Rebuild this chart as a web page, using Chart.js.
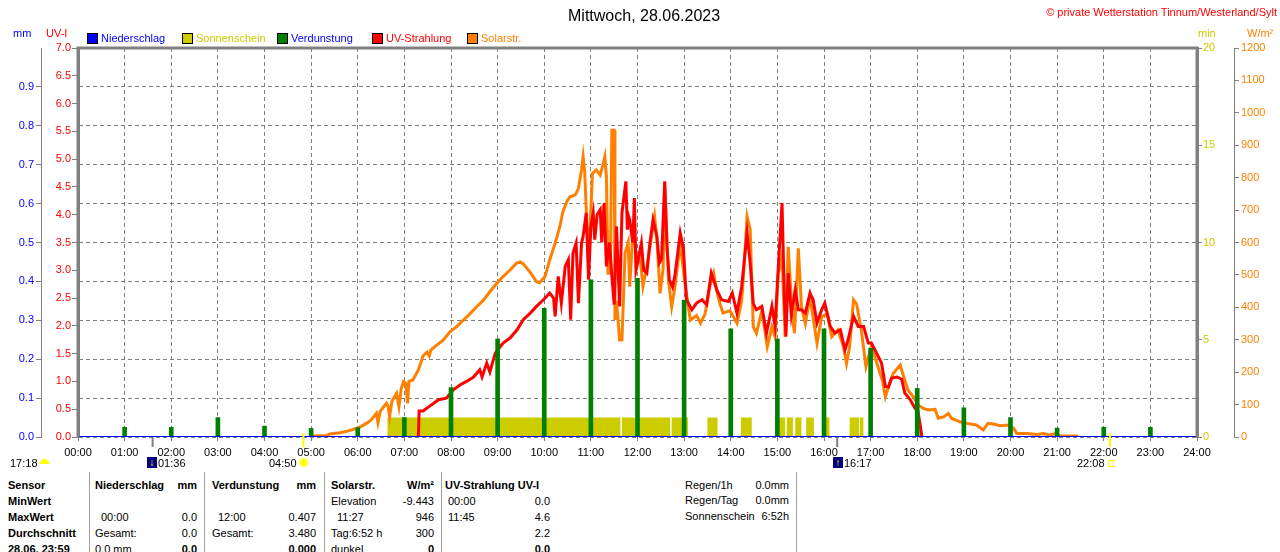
<!DOCTYPE html>
<html>
<head>
<meta charset="utf-8">
<script src="https://cdn.jsdelivr.net/npm/chart.js@4.4.0/dist/chart.umd.min.js"></script>
<style>
html, body { margin: 0; padding: 0; background: #fff; width: 1280px; height: 552px; overflow: hidden; font-family: "Liberation Sans", Arial, sans-serif; }
#wrap { position: absolute; left: 0; top: 0; width: 1280px; height: 462px; }
.t { position: absolute; white-space: nowrap; font-size: 11px; line-height: 14px; color: #000; }
.sq { position: absolute; width: 9px; height: 9px; border: 1px solid #000; }
.sep { position: absolute; width: 1px; background: #a0a0a0; top: 472px; height: 80px; }
.ico { position: absolute; }
</style>
</head>
<body>
<div id="wrap"><canvas id="chart" width="1280" height="462"></canvas></div>

<div class="sq" style="left:87px;top:33px;background:#0000ff"></div>
<div class="sq" style="left:182px;top:33px;background:#cccc00"></div>
<div class="sq" style="left:277px;top:33px;background:#008000"></div>
<div class="sq" style="left:372px;top:33px;background:#ff0000"></div>
<div class="sq" style="left:467px;top:33px;background:#ff8000"></div>

<div class="sep" style="left:89px"></div>
<div class="sep" style="left:204px"></div>
<div class="sep" style="left:324px"></div>
<div class="sep" style="left:441px"></div>
<div class="sep" style="left:796px"></div>

<!-- sun / moon icons under the axis -->
<div class="ico" style="left:40px;top:459px;width:9px;height:5px;background:#ffff00;border-radius:5px 5px 0 0"></div>
<div class="ico" style="left:147px;top:457px;width:10px;height:11px;background:#000080;color:#ffff00;font-size:10px;line-height:11px;text-align:center">&#8595;</div>
<div class="ico" style="left:300px;top:459px;width:7px;height:7px;background:#ffff00;border-radius:50%;box-shadow:0 0 2px 1px #ffff60"></div>
<div class="ico" style="left:833px;top:457px;width:10px;height:11px;background:#000080;color:#ffff00;font-size:10px;line-height:11px;text-align:center">&#8593;</div>
<div class="ico" style="left:1108px;top:460px;width:4px;height:5px;border:1px solid #ffff00"></div>

<script>
// Niederschlag (mm), hourly
const precipTimes = ['00:00', '06:00', '12:00', '18:00', '24:00'];
const precipValues = [0, 0, 0, 0, 0];

// Verdunstung (mm), hourly sums
const evapTimes = ['01:00', '02:00', '03:00', '04:00', '05:00', '06:00', '07:00', '08:00', '09:00', '10:00', '11:00', '12:00',
    '13:00', '14:00', '15:00', '16:00', '17:00', '18:00', '19:00', '20:00', '21:00', '22:00', '23:00'];
const evapValues = [0.025, 0.025, 0.05, 0.028, 0.022, 0.024, 0.05, 0.127, 0.252, 0.331, 0.404, 0.408,
    0.352, 0.278, 0.252, 0.278, 0.228, 0.125, 0.075, 0.05, 0.023, 0.025, 0.025];

// Sonnenschein (min), sunny periods
const sunStart = ['06:38', '11:40', '12:44', '13:30', '14:13', '15:02', '15:12', '15:23', '15:37', '16:02', '16:33', '16:46'];
const sunEnd = ['11:38', '12:42', '13:05', '13:43', '14:27', '15:10', '15:20', '15:31', '15:47', '16:07', '16:45', '16:51'];
const sunValues = [1, 1, 1, 1, 1, 1, 1, 1, 1, 1, 1, 1];

// Solarstrahlung (W/m²)
const solarTimes = ['05:00', '05:20', '05:24', '05:37', '05:47', '05:59', '06:04', '06:11', '06:17', '06:24', '06:26', '06:29',
    '06:37', '06:39', '06:41', '06:44', '06:50', '06:53', '06:56', '06:59', '07:02', '07:04', '07:06', '07:11',
    '07:18', '07:24', '07:29', '07:32', '07:34', '07:42', '07:50', '07:59', '08:07', '08:16', '08:24', '08:33',
    '08:42', '08:50', '08:59', '09:07', '09:16', '09:24', '09:29', '09:33', '09:42', '09:50', '09:54', '10:01',
    '10:07', '10:14', '10:20', '10:24', '10:29', '10:33', '10:40', '10:44', '10:48', '10:50', '10:52', '10:55',
    '10:57', '10:59', '11:02', '11:07', '11:12', '11:16', '11:18', '11:20', '11:22', '11:25', '11:27', '11:30',
    '11:31', '11:33', '11:37', '11:40', '11:44', '11:48', '11:50', '11:55', '11:59', '12:03', '12:07', '12:12',
    '12:18', '12:22', '12:25', '12:29', '12:33', '12:35', '12:40', '12:44', '12:48', '12:55', '13:01', '13:08',
    '13:16', '13:21', '13:27', '13:33', '13:38', '13:42', '13:46', '13:50', '13:59', '14:08', '14:14', '14:16',
    '14:19', '14:21', '14:25', '14:29', '14:33', '14:40', '14:47', '14:53', '14:57', '15:01', '15:06', '15:10',
    '15:14', '15:19', '15:22', '15:24', '15:27', '15:31', '15:36', '15:42', '15:51', '15:57', '16:04', '16:10',
    '16:18', '16:25', '16:29', '16:33', '16:38', '16:42', '16:48', '16:54', '17:01', '17:08', '17:15', '17:19',
    '17:23', '17:29', '17:38', '17:42', '17:48', '17:55', '18:01', '18:08', '18:14', '18:23', '18:27', '18:34',
    '18:40', '18:44', '18:55', '19:04', '19:16', '19:25', '19:31', '19:38', '19:47', '19:55', '20:04', '20:08',
    '20:21', '20:34', '20:42', '20:51', '20:57', '21:04', '21:27'];
const solarValues = [3, 5, 9, 13, 18, 27, 32, 42, 52, 73, 44, 80,
    104, 95, 63, 110, 135, 94, 150, 171, 165, 104, 172, 176,
    207, 250, 262, 250, 268, 284, 299, 325, 340, 361, 379, 402,
    423, 448, 474, 495, 515, 536, 540, 534, 508, 479, 476, 495,
    546, 598, 648, 695, 726, 741, 747, 767, 824, 865, 820, 650,
    560, 640, 813, 824, 808, 844, 865, 803, 505, 505, 946, 946,
    361, 420, 299, 299, 567, 600, 464, 669, 525, 567, 464, 525,
    618, 680, 610, 443, 520, 783, 480, 402, 460, 598, 474, 361,
    375, 351, 380, 464, 505, 450, 412, 382, 390, 351, 420, 484,
    600, 680, 640, 340, 320, 390, 279, 340, 309, 500, 560, 309,
    587, 380, 320, 420, 582, 400, 350, 433, 289, 371, 380, 309,
    330, 279, 227, 279, 423, 410, 330, 217, 280, 227, 176, 124,
    155, 196, 222, 190, 145, 124, 99, 88, 83, 85, 58, 62,
    73, 58, 47, 42, 37, 22, 42, 40, 35, 37, 27, 11,
    11, 8, 11, 6, 10, 4, 3];

// UV-Strahlung (UV-I)
const uvTimes = ['07:18', '07:19', '07:24', '07:33', '07:44', '07:54', '08:03', '08:12', '08:20', '08:29', '08:37', '08:40',
    '08:46', '08:50', '08:57', '09:07', '09:16', '09:25', '09:33', '09:42', '09:50', '09:59', '10:07', '10:12',
    '10:14', '10:18', '10:22', '10:27', '10:31', '10:34', '10:37', '10:41', '10:44', '10:48', '10:50', '10:54',
    '10:57', '11:00', '11:03', '11:05', '11:08', '11:12', '11:14', '11:17', '11:20', '11:24', '11:27', '11:30',
    '11:33', '11:37', '11:40', '11:45', '11:47', '11:48', '11:50', '11:54', '11:56', '11:58', '12:01', '12:05',
    '12:08', '12:12', '12:16', '12:20', '12:25', '12:28', '12:31', '12:35', '12:38', '12:41', '12:45', '12:48',
    '12:55', '12:59', '13:03', '13:10', '13:16', '13:23', '13:29', '13:35', '13:42', '13:48', '13:57', '14:02',
    '14:08', '14:14', '14:18', '14:21', '14:25', '14:29', '14:33', '14:40', '14:46', '14:53', '14:57', '15:01',
    '15:06', '15:09', '15:11', '15:14', '15:18', '15:23', '15:27', '15:31', '15:36', '15:42', '15:46', '15:51',
    '15:57', '16:01', '16:08', '16:14', '16:21', '16:27', '16:31', '16:38', '16:44', '16:51', '16:57', '17:01',
    '17:08', '17:14', '17:19', '17:23', '17:27', '17:34', '17:40', '17:44', '17:51', '17:57', '18:01', '18:04',
    '18:06'];
const uvValues = [0.0, 0.47, 0.47, 0.56, 0.67, 0.70, 0.85, 0.94, 1.0, 1.08, 1.21, 1.08,
    1.33, 1.17, 1.51, 1.69, 1.78, 1.93, 2.11, 2.23, 2.35, 2.47, 2.59, 2.5,
    2.17, 2.89, 2.41, 3.07, 3.19, 2.11, 3.31, 3.49, 2.41, 3.49, 3.61, 4.03,
    2.83, 3.79, 4.03, 3.55, 4.0, 4.09, 3.5, 4.21, 3.07, 3.5, 2.89, 2.38,
    3.79, 2.35, 4.03, 4.6, 3.73, 4.0, 3.91, 3.5, 4.3, 3.01, 3.2, 3.49,
    3.0, 2.95, 3.49, 3.91, 3.61, 3.13, 3.2, 4.6, 3.4, 2.83, 2.7, 2.89,
    3.67, 3.4, 2.47, 2.29, 2.41, 2.47, 2.38, 2.95, 2.65, 2.47, 2.44, 2.59,
    2.23, 2.7, 3.25, 3.67, 3.13, 2.4, 2.29, 2.35, 1.87, 2.35, 2.0, 3.01,
    4.21, 2.5, 1.81, 2.95, 2.2, 2.65, 2.29, 2.29, 2.23, 2.59, 2.47, 2.05,
    2.29, 2.41, 1.99, 1.87, 1.93, 1.57, 1.75, 2.17, 1.99, 1.99, 1.69, 1.69,
    1.5, 1.33, 0.91, 0.9, 1.06, 1.08, 1.04, 0.79, 0.67, 0.52, 0.45, 0.2,
    0.0];

// Sonnenauf-/untergang und Mond
const sunMarks = ['04:50', '22:08'];
const moonMarks = ['01:36', '16:17'];

const toMin = t => { const [h, m] = t.split(':').map(Number); return h * 60 + m; };
const pad = n => (n < 10 ? '0' : '') + n;

function put(txt, x, y, o = {}) {
    const d = document.createElement('div');
    d.className = 't';
    d.textContent = txt;
    d.style.top = (y - 7) + 'px';
    if (o.right) d.style.right = (1280 - x) + 'px'; else d.style.left = x + 'px';
    if (o.bold) d.style.fontWeight = 'bold';
    if (o.color) d.style.color = o.color;
    if (o.size) { d.style.fontSize = o.size + 'px'; d.style.lineHeight = (o.size + 3) + 'px'; d.style.top = (y - (o.size + 3) / 2) + 'px'; }
    document.body.appendChild(d);
}

// header
put('Mittwoch, 28.06.2023', 568, 15, { size: 16 });
put('\u00A9 private Wetterstation Tinnum/Westerland/Sylt', 1277, 12, { right: true, color: '#ff0000' });
put('mm', 13, 33, { color: '#0000ff' });
put('UV-I', 46, 33, { color: '#ff0000' });
put('min', 1198, 33, { color: '#cccc00' });
put('W/m\u00B2', 1247, 33, { color: '#ff8000' });
put('Niederschlag', 101, 38, { color: '#0000ff' });
put('Sonnenschein', 196, 38, { color: '#cccc00' });
put('Verdunstung', 291, 38, { color: '#0000ff' });
put('UV-Strahlung', 386, 38, { color: '#ff0000' });
put('Solarstr.', 481, 38, { color: '#ff8000' });

// sun / moon times
put('17:18', 10, 463);
put('01:36', 158, 463);
put('04:50', 269, 463);
put('16:17', 844, 463);
put('22:08', 1077, 463);

// table
const rows = [485, 501, 517, 533, 549];
['Sensor', 'MinWert', 'MaxWert', 'Durchschnitt', '28.06. 23:59'].forEach((s, i) => put(s, 8, rows[i], { bold: true }));
put('Niederschlag', 95, rows[0], { bold: true }); put('mm', 197, rows[0], { bold: true, right: true });
put('00:00', 101, rows[2]); put('0.0', 197, rows[2], { right: true });
put('Gesamt:', 95, rows[3]); put('0.0', 197, rows[3], { right: true });
put('0.0 mm', 95, rows[4]); put('0.0', 197, rows[4], { right: true, bold: true });
put('Verdunstung', 212, rows[0], { bold: true }); put('mm', 316, rows[0], { bold: true, right: true });
put('12:00', 218, rows[2]); put('0.407', 316, rows[2], { right: true });
put('Gesamt:', 212, rows[3]); put('3.480', 316, rows[3], { right: true });
put('0.000', 316, rows[4], { right: true, bold: true });
put('Solarstr.', 331, rows[0], { bold: true }); put('W/m\u00B2', 434, rows[0], { bold: true, right: true });
put('Elevation', 331, rows[1]); put('-9.443', 434, rows[1], { right: true });
put('11:27', 337, rows[2]); put('946', 434, rows[2], { right: true });
put('Tag:6:52 h', 331, rows[3]); put('300', 434, rows[3], { right: true });
put('dunkel', 331, rows[4]); put('0', 434, rows[4], { right: true, bold: true });
put('UV-Strahlung UV-I', 445, rows[0], { bold: true });
put('00:00', 448, rows[1]); put('0.0', 550, rows[1], { right: true });
put('11:45', 448, rows[2]); put('4.6', 550, rows[2], { right: true });
put('2.2', 550, rows[3], { right: true });
put('0.0', 550, rows[4], { right: true, bold: true });
put('Regen/1h', 685, 485); put('0.0mm', 789, 485, { right: true });
put('Regen/Tag', 685, 500); put('0.0mm', 789, 500, { right: true });
put('Sonnenschein', 685, 516); put('6:52h', 789, 516, { right: true });

// datasets
const xy = (times, vals) => times.map((t, i) => ({ x: toMin(t), y: vals[i] }));
const sunData = [];
sunStart.forEach((s, i) => {
    const a = toMin(s), b = toMin(sunEnd[i]);
    sunData.push({ x: a, y: 0 }, { x: a, y: sunValues[i] }, { x: b, y: sunValues[i] }, { x: b, y: 0 });
});

const framePlugin = {
    id: 'frame',
    afterDatasetsDraw(chart) {
        const { ctx, chartArea: a, scales } = chart;
        ctx.save();
        ctx.strokeStyle = '#808080';
        ctx.lineWidth = 3;
        ctx.beginPath();
        ctx.moveTo(a.left, a.bottom);
        ctx.lineTo(a.left, a.top);
        ctx.lineTo(a.right, a.top);
        ctx.lineTo(a.right, a.bottom);
        ctx.stroke();
        ctx.lineWidth = 2;
        moonMarks.forEach(t => {
            const x = scales.x.getPixelForValue(toMin(t));
            ctx.beginPath(); ctx.moveTo(x, a.bottom); ctx.lineTo(x, a.bottom + 10); ctx.stroke();
        });
        ctx.strokeStyle = '#ffff00';
        sunMarks.forEach(t => {
            const x = scales.x.getPixelForValue(toMin(t));
            ctx.beginPath(); ctx.moveTo(x, a.bottom - 4); ctx.lineTo(x, a.bottom + 10); ctx.stroke();
        });
        ctx.restore();
    }
};

Chart.defaults.font.family = '"Liberation Sans", Arial, sans-serif';
Chart.defaults.font.size = 11;

const gray = '#808080';
new Chart(document.getElementById('chart').getContext('2d'), {
    type: 'line',
    data: {
        datasets: [
            { label: 'Niederschlag', data: xy(precipTimes, precipValues), yAxisID: 'yMM', borderColor: '#0000ff', borderWidth: 2, pointRadius: 0, order: 0 },
            { type: 'bar', label: 'Verdunstung', data: xy(evapTimes, evapValues), yAxisID: 'yMM', backgroundColor: '#008000', barThickness: 4, order: 1 },
            { label: 'UV-Strahlung', data: xy(uvTimes, uvValues), yAxisID: 'yUV', borderColor: '#ff0000', borderWidth: 3, pointRadius: 0, order: 2 },
            { label: 'Solarstr.', data: xy(solarTimes, solarValues), yAxisID: 'yW', borderColor: '#ff8000', borderWidth: 3, pointRadius: 0, order: 3 },
            { label: 'Sonnenschein', data: sunData, yAxisID: 'yMin', borderWidth: 0, borderColor: 'rgba(0,0,0,0)', backgroundColor: '#cccc00', fill: 'origin', pointRadius: 0, order: 4 }
        ]
    },
    options: {
        responsive: false,
        animation: false,
        layout: { padding: { top: 48, left: 0, right: 0, bottom: 0 } },
        plugins: { legend: { display: false }, tooltip: { enabled: false } },
        scales: {
            x: {
                type: 'linear', min: 0, max: 1440, offset: false,
                ticks: { stepSize: 60, autoSkip: false, maxRotation: 0, color: '#000', padding: 5, callback: v => pad(v / 60) + ':00' },
                grid: { color: gray, offset: false, tickLength: 4, tickColor: gray },
                border: { display: false, dash: [4, 3] },
                afterFit: s => { s.height = 25; }
            },
            yUV: {
                position: 'left', min: 0, max: 7,
                ticks: { stepSize: 0.5, color: '#ff0000', padding: 1, callback: v => v.toFixed(1) },
                grid: { drawOnChartArea: false, tickLength: 6, tickColor: gray },
                border: { color: gray, width: 3 },
                afterFit: s => { s.width = 37; }
            },
            yMM: {
                position: 'left', min: 0, max: 1,
                ticks: { stepSize: 0.1, color: '#0000ff', padding: 2, callback: v => v > 0.95 ? '' : v.toFixed(1) },
                grid: { color: gray, tickLength: 5, tickColor: c => (c.tick && c.tick.value > 0.95) ? 'rgba(0,0,0,0)' : gray },
                border: { color: gray, width: 1, dash: [4, 3] },
                afterFit: s => { s.width = 41; }
            },
            yMin: {
                position: 'right', min: 0, max: 20,
                ticks: { stepSize: 5, color: '#cccc00', padding: 1, callback: v => String(v) },
                grid: { drawOnChartArea: false, tickLength: 5, tickColor: gray },
                border: { color: gray, width: 3 },
                afterFit: s => { s.width = 37; }
            },
            yW: {
                position: 'right', min: 0, max: 1200,
                ticks: { stepSize: 100, color: '#ff8000', padding: 2, callback: v => String(v) },
                grid: { drawOnChartArea: false, tickLength: 5, tickColor: gray },
                border: { color: gray, width: 1 },
                afterFit: s => { s.width = 46; }
            }
        }
    },
    plugins: [framePlugin]
});
</script>
</body>
</html>
